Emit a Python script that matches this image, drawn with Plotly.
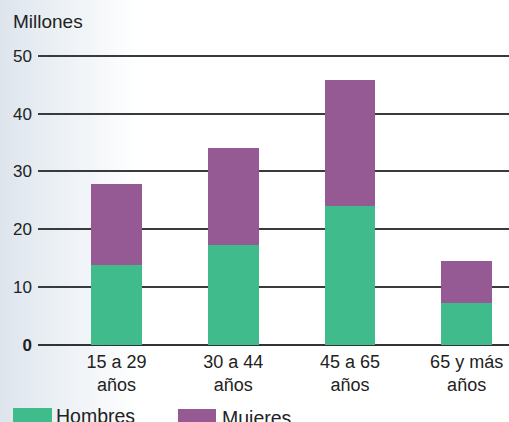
import plotly.graph_objects as go

categories = ["15 a 29<br>años", "30 a 44<br>años", "45 a 65<br>años", "65 y más<br>años"]
hombres = [13.8, 17.3, 24.0, 7.3]
mujeres = [14.1, 16.8, 21.8, 7.2]
y_ticks = [0, 10, 20, 30, 40, 50]
y_ticktext = ["<b>0</b>", "10", "20", "30", "40", "50"]

GREEN = "#40bb8c"
PURPLE = "#955a94"
FONT = "Liberation Sans, Arial, sans-serif"

W, H = 509, 422
L, R, T, B = 38, 0, 50.2, 77
PW, PH = W - L - R, H - T - B


def px(x):
    return (x - L) / PW


def py(y):
    return (H - B - y) / PH


fig = go.Figure()
fig.add_trace(go.Bar(x=categories, y=hombres, name="Hombres", marker_color=GREEN,
                     marker_line_width=0, width=0.436))
fig.add_trace(go.Bar(x=categories, y=mujeres, name="Mujeres", marker_color=PURPLE,
                     marker_line_width=0, width=0.436))

shapes = []
# background gradient at the left
n = 28
x0, x1 = 0, 140
c0 = (221, 229, 237)
for i in range(n):
    a = x0 + (x1 - x0) * i / n
    b = x0 + (x1 - x0) * (i + 1) / n + 0.5
    t = (i + 0.5) / n
    col = tuple(round(c0[k] + (255 - c0[k]) * t) for k in range(3))
    shapes.append(dict(type="rect", xref="paper", yref="paper",
                       x0=px(a), x1=px(b), y0=py(H), y1=py(0),
                       fillcolor="rgb(%d,%d,%d)" % col, line_width=0, layer="below"))

# legend swatches
shapes.append(dict(type="rect", xref="paper", yref="paper", x0=px(13), x1=px(52),
                   y0=py(430), y1=py(408), fillcolor=GREEN, line_width=0))
shapes.append(dict(type="rect", xref="paper", yref="paper", x0=px(178), x1=px(216),
                   y0=py(430), y1=py(409), fillcolor=PURPLE, line_width=0))

annotations = [
    dict(text="Millones", xref="paper", yref="paper", x=px(11), y=py(9),
         xanchor="left", yanchor="top", showarrow=False,
         font=dict(family=FONT, size=19, color="#222")),
    dict(text="Hombres", xref="paper", yref="paper", x=px(54), y=py(403),
         xanchor="left", yanchor="top", showarrow=False,
         font=dict(family=FONT, size=19.5, color="#222")),
    dict(text="Mujeres", xref="paper", yref="paper", x=px(220), y=py(405),
         xanchor="left", yanchor="top", showarrow=False,
         font=dict(family=FONT, size=19.5, color="#222")),
]

fig.update_layout(
    width=W, height=H,
    margin=dict(l=L, r=R, t=T, b=B, pad=0),
    paper_bgcolor="white", plot_bgcolor="rgba(0,0,0,0)",
    barmode="stack", showlegend=False,
    font=dict(family=FONT, size=17, color="#222"),
    shapes=shapes, annotations=annotations,
    xaxis=dict(range=[-0.673, 3.363], showgrid=False, zeroline=False, showline=False,
               ticks="", ticklabelstandoff=4,
               tickfont=dict(size=18, color="#222"), fixedrange=True),
    yaxis=dict(range=[0, 51], tickvals=y_ticks, ticktext=y_ticktext,
               showgrid=True, gridcolor="#3a3a3a", gridwidth=1.5,
               zeroline=True, zerolinecolor="#333", zerolinewidth=2.2,
               showline=False, ticks="", ticklabelstandoff=5,
               tickfont=dict(size=17, color="#222")),
)

fig.write_html("out.html", config={"displayModeBar": False},
               post_script="document.body.style.margin='0';document.body.style.overflow='hidden';")
